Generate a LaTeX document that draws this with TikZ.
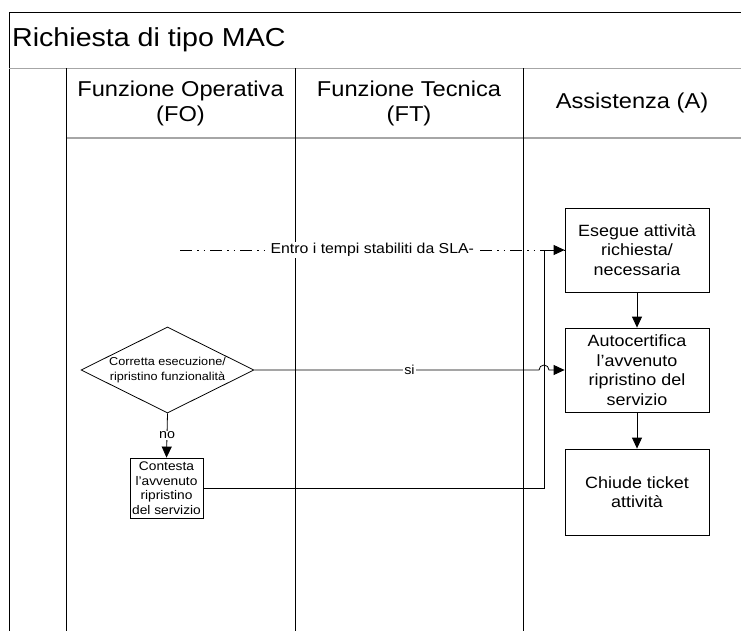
\documentclass[tikz,border=0pt]{standalone}
\usepackage{fontspec}
\setmainfont{Liberation Sans}[FakeStretch=1.1]
\usetikzlibrary{arrows.meta,shapes.geometric,calc}
\begin{document}
\begin{tikzpicture}[x=1pt,y=-1pt,
  frameline/.style={line width=0.9pt,black},
  sepline/.style={line width=1.6pt,gray!70},
  laneline/.style={line width=1pt,black},
  title/.style={anchor=west,inner sep=0pt,font=\fontsize{26}{30}\selectfont},
  header/.style={align=center,inner sep=0pt,font=\fontsize{21.5}{25}\selectfont},
  bigbox/.style={draw,line width=0.8pt,minimum width=144pt,minimum height=84pt,align=center,inner sep=0pt,font=\fontsize{16.3}{19.5}\selectfont},
  smallbox/.style={draw,line width=0.8pt,minimum width=73pt,minimum height=60pt,align=center,inner sep=0pt,font=\fontsize{12.5}{14.5}\selectfont},
  decision/.style={draw,diamond,aspect=2,line width=0.8pt,minimum width=173pt,minimum height=86pt,align=center,inner sep=0pt,font=\fontsize{11.5}{15}\selectfont},
  conn/.style={line width=0.8pt,-{Triangle[length=11pt,width=10pt]}},
  dashdotline/.style={line width=0.8pt,dash pattern=on 12pt off 5pt on 1.5pt off 5pt on 1.5pt off 5pt},
  lbl/.style={fill=white,inner sep=1pt,font=\fontsize{14.4}{16}\selectfont},
  smalllbl/.style={fill=white,inner sep=1pt,font=\fontsize{13}{15}\selectfont}
]
\useasboundingbox (0,0) rectangle (741,631);

% frame
\draw[frameline] (741,12.7) -- (9,12.7) -- (9,631);
\draw[sepline] (9,68.5) -- (741,68.5);
\draw[sepline] (66,138) -- (741,138);
\draw[laneline] (66,68.5) -- (66,631);
\draw[laneline] (295,68.5) -- (295,631);
\draw[laneline] (523,68.5) -- (523,631);

% title and headers
\node[title] (ttl) at (12,40) {Richiesta di tipo MAC};
\node[header] (hfo) at (180.5,103) {Funzione Operativa\\(FO)};
\node[header] (hft) at (409,103) {Funzione Tecnica\\(FT)};
\node[header] (ha) at (632,103) {Assistenza (A)};

% nodes
\node[bigbox] (ese) at (637,250) {Esegue attività\\richiesta/\\necessaria};
\node[bigbox] (auto) at (637,370) {Autocertifica\\l’avvenuto\\ripristino del\\servizio};
\node[bigbox,minimum height=86pt] (chi) at (637,492) {Chiude ticket\\attività};
\node[decision] (dec) at (167.5,370) {Corretta esecuzione/\\ripristino funzionalità};
\node[smallbox] (con) at (166.5,488) {Contesta\\l’avvenuto\\ripristino\\del servizio};

\coordinate (sla) at (180,250);
\coordinate (jv) at (544,250);

% connectors
\draw[dashdotline] (sla) -- (ese.west) node[lbl,midway] {Entro i tempi stabiliti da SLA-};
\draw[conn] (con.east) -| (jv) -- (ese.west);
\draw[conn] (ese.south) -- (auto.north);
\draw[conn] (auto.south) -- (chi.north);
\draw[conn] (dec.south) -- (con.north) node[smalllbl,midway] {no};
\draw[conn] (dec.east) -- ($(jv|-dec.east)+(-5,0)$) arc[start angle=180,end angle=0,radius=5pt] -- (auto.west);
\path (dec.east) -- (auto.west) node[smalllbl,midway] {si};
\end{tikzpicture}
\end{document}
